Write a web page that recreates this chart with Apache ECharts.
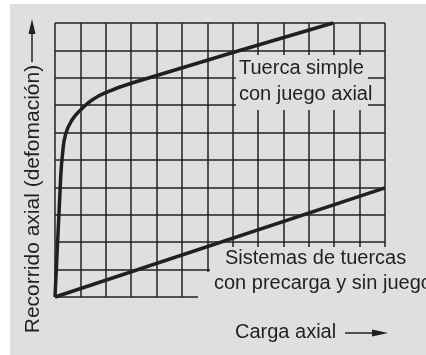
<!DOCTYPE html>
<html>
<head>
<meta charset="utf-8">
<script src="https://cdn.jsdelivr.net/npm/echarts@6/dist/echarts.min.js"></script>
<style>
  html, body { margin: 0; padding: 0; background: #fff; }
  #wrap { position: relative; width: 426px; height: 355px; overflow: hidden; }
  #panel { position: absolute; left: 10px; top: 4px; right: 0; bottom: 0; background: #dedfe1; }
  #chart { position: absolute; left: 0; top: 0; width: 426px; height: 355px; }
</style>
</head>
<body>
<div id="wrap">
  <div id="panel"></div>
  <div id="chart"></div>
</div>
<script>
// curve: single nut with axial play (x = load, y = axial travel, in grid units)
var simpleX = [0, 0.22, 0.3, 0.42, 0.67, 1.0, 1.46, 2.05, 3.03, 10.95];
var simpleY = [0, 4.3, 5.25, 5.95, 6.46, 6.82, 7.19, 7.48, 7.81, 10];
// preloaded nut system: straight line
var preloadX = [0, 13];
var preloadY = [0, 3.98];

var xMax = 13, yMax = 10;
var yTitle = 'Recorrido axial (defomación)';
var xTitle = 'Carga axial';
var simpleLabel = ['Tuerca simple', 'con juego axial'];
var preloadLabel = ['Sistemas de tuercas', 'con precarga y sin juego'];

function pairs(xs, ys) {
    return xs.map(function (x, i) { return [x, ys[i]]; });
}

var dom = document.getElementById('chart');
var myChart = echarts.init(dom, null, { renderer: 'canvas' });

var ink = '#231f20';
var bg = '#dedfe1';
var font = '20px "Liberation Sans", Arial, sans-serif';
var gridLine = { show: true, lineStyle: { color: '#222', width: 1.5, type: 'solid' } };

option = {
    animation: false,
    grid: { left: 55, top: 23, width: 330, height: 274 },
    xAxis: {
        type: 'value', min: 0, max: xMax, interval: 1,
        axisLine: { show: false }, axisTick: { show: false }, axisLabel: { show: false },
        splitLine: gridLine
    },
    yAxis: {
        type: 'value', min: 0, max: yMax, interval: 1,
        axisLine: { show: false }, axisTick: { show: false }, axisLabel: { show: false },
        splitLine: gridLine
    },
    graphic: [
        // masks behind the labels (hide the grid there)
        { type: 'rect', z: 1, shape: { x: 236, y: 55, width: 132, height: 55 }, style: { fill: bg } },
        { type: 'rect', z: 1, shape: { x: 210, y: 247, width: 216, height: 25 }, style: { fill: bg } },
        { type: 'rect', z: 1, shape: { x: 198, y: 272, width: 228, height: 30 }, style: { fill: bg } },
        // curve labels
        { type: 'text', z: 3, x: 239, y: 68, style: { text: simpleLabel[0], font: font, fill: ink, textVerticalAlign: 'middle' } },
        { type: 'text', z: 3, x: 239, y: 94, style: { text: simpleLabel[1], font: font, fill: ink, textVerticalAlign: 'middle' } },
        { type: 'text', z: 3, x: 225, y: 258, style: { text: preloadLabel[0], font: font, fill: ink, textVerticalAlign: 'middle' } },
        { type: 'text', z: 3, x: 214, y: 283, style: { text: preloadLabel[1], font: font, fill: ink, textVerticalAlign: 'middle' } },
        // axis titles
        { type: 'text', z: 3, x: 33, y: 199, rotation: Math.PI / 2,
          style: { text: yTitle, font: '21px "Liberation Sans", Arial, sans-serif', fill: ink, textAlign: 'center', textVerticalAlign: 'middle' } },
        { type: 'line', z: 3, shape: { x1: 32, y1: 62, x2: 32, y2: 30 }, style: { stroke: ink, lineWidth: 1.5 } },
        { type: 'polygon', z: 3, shape: { points: [[32, 19], [28.5, 34], [35.5, 34]] }, style: { fill: ink } },
        { type: 'text', z: 3, x: 235, y: 332, style: { text: xTitle, font: font, fill: ink, textVerticalAlign: 'middle' } },
        { type: 'line', z: 3, shape: { x1: 345, y1: 333, x2: 376, y2: 333 }, style: { stroke: ink, lineWidth: 1.5 } },
        { type: 'polygon', z: 3, shape: { points: [[388, 333], [372, 329.5], [372, 336.5]] }, style: { fill: ink } }
    ],
    series: [
        {
            type: 'line', data: pairs(simpleX, simpleY), z: 5,
            smooth: 0.5, showSymbol: false, clip: false,
            lineStyle: { color: ink, width: 3.5 }
        },
        {
            type: 'line', data: pairs(preloadX, preloadY), z: 5,
            showSymbol: false, clip: false,
            lineStyle: { color: ink, width: 3.5 }
        }
    ]
};

if (option && typeof option === 'object') {
    myChart.setOption(option, true);
}
</script>
</body>
</html>
